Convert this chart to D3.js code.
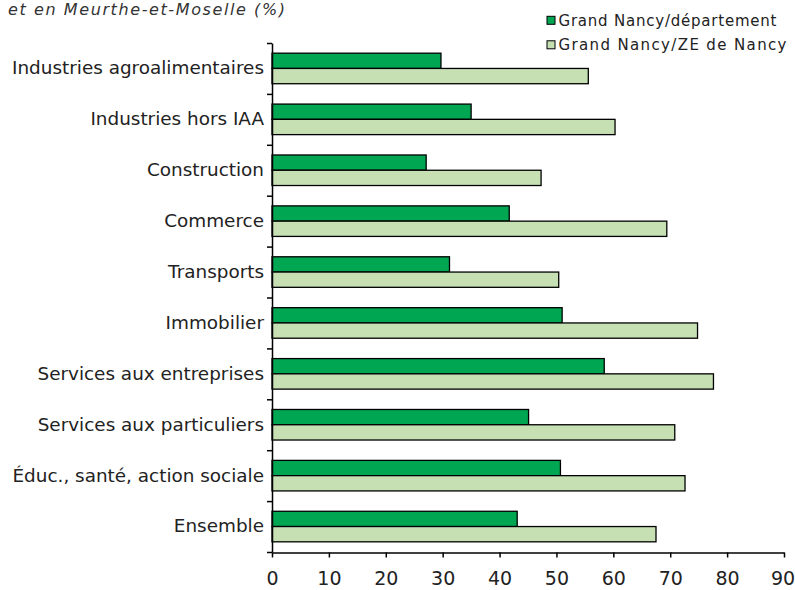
<!DOCTYPE html>
<html>
<head>
<meta charset="utf-8">
<script src="https://cdn.jsdelivr.net/npm/d3@7"></script>
<style>
  html, body { margin: 0; padding: 0; background: #fff; }
  svg { display: block; }
</style>
</head>
<body>
<svg id="chart" width="795" height="590"></svg>
<script>
const categories = [
  "Industries agroalimentaires",
  "Industries hors IAA",
  "Construction",
  "Commerce",
  "Transports",
  "Immobilier",
  "Services aux entreprises",
  "Services aux particuliers",
  "Éduc., santé, action sociale",
  "Ensemble"
];
const seriesNames = ["Grand Nancy/département", "Grand Nancy/ZE de Nancy"];
const deptValues = [29.7, 35.0, 27.1, 41.7, 31.2, 51.0, 58.4, 45.1, 50.7, 43.1];
const zeValues   = [55.6, 60.3, 47.3, 69.4, 50.4, 74.8, 77.6, 70.8, 72.6, 67.5];
const xTicks = [0, 10, 20, 30, 40, 50, 60, 70, 80, 90];
const titleText = "et en Meurthe-et-Moselle (%)";

const colors = ["#00a651", "#c6e0b3"];
const series = [deptValues, zeValues];

const svg = d3.select("#chart");

const x = d3.scaleLinear().domain([0, 90]).range([272, 784]);
const y = d3.scaleBand().domain(categories).range([43, 552]).paddingInner(0.4).paddingOuter(0.2);
const sub = d3.scaleBand().domain(seriesNames).range([0, y.bandwidth()]);

// Title
svg.append("text")
  .attr("x", 8).attr("y", 15)
  .attr("font-family", "'DejaVu Sans', sans-serif")
  .attr("font-style", "italic")
  .attr("font-size", 16)
  .attr("fill", "#333")
  .attr("textLength", 277)
  .attr("lengthAdjust", "spacing")
  .text(titleText);

// Bars
series.forEach((vals, si) => {
  svg.append("g").selectAll("rect")
    .data(categories.map((c, i) => ({ c, v: vals[i] })))
    .join("rect")
    .attr("x", x(0))
    .attr("y", d => y(d.c) + sub(seriesNames[si]))
    .attr("width", d => x(d.v) - x(0))
    .attr("height", sub.bandwidth())
    .attr("fill", colors[si])
    .attr("stroke", "#000")
    .attr("stroke-width", 1.3);
});

// Y axis line + boundary ticks
const yIdx = d3.scaleLinear().domain([0, categories.length]).range([43, 552]);
svg.append("g")
  .attr("transform", `translate(${x(0)},0)`)
  .call(d3.axisLeft(yIdx).tickValues(d3.range(categories.length + 1)).tickFormat("").tickSize(5).tickSizeOuter(0))
  .call(g => g.selectAll("line,path").attr("stroke", "#000").attr("stroke-width", 1.5));

// Category labels
svg.append("g")
  .attr("transform", `translate(${x(0)},0)`)
  .call(d3.axisLeft(y).tickSize(0).tickPadding(8))
  .call(g => g.select(".domain").remove())
  .call(g => g.selectAll("text")
    .attr("font-family", "'DejaVu Sans', sans-serif")
    .attr("font-size", 18.4)
    .attr("fill", "#222"));

// X axis
svg.append("g")
  .attr("transform", "translate(0,552.5)")
  .call(d3.axisBottom(x).tickValues(xTicks).tickSize(5).tickSizeOuter(0).tickPadding(14))
  .call(g => g.selectAll("line,path").attr("stroke", "#000").attr("stroke-width", 1.5))
  .call(g => g.selectAll("text")
    .attr("font-family", "'DejaVu Sans', sans-serif")
    .attr("font-size", 19)
    .attr("fill", "#222"))
  .call(g => g.selectAll(".tick").filter(d => d === 90).select("text").attr("dx", -1.5));

// Legend
const legend = svg.append("g");
seriesNames.forEach((name, i) => {
  const cy = 20.5 + i * 24.5;
  legend.append("rect")
    .attr("x", 547).attr("y", cy - 4.2)
    .attr("width", 8).attr("height", 8)
    .attr("fill", colors[i])
    .attr("stroke", "#000").attr("stroke-width", 1);
  legend.append("text")
    .attr("x", 558.5).attr("y", cy)
    .attr("dy", "0.36em")
    .attr("font-family", "'DejaVu Sans', sans-serif")
    .attr("font-size", 15)
    .attr("fill", "#222")
    .attr("textLength", i === 0 ? 218 : 228)
    .attr("lengthAdjust", "spacing")
    .text(name);
});
</script>
</body>
</html>
